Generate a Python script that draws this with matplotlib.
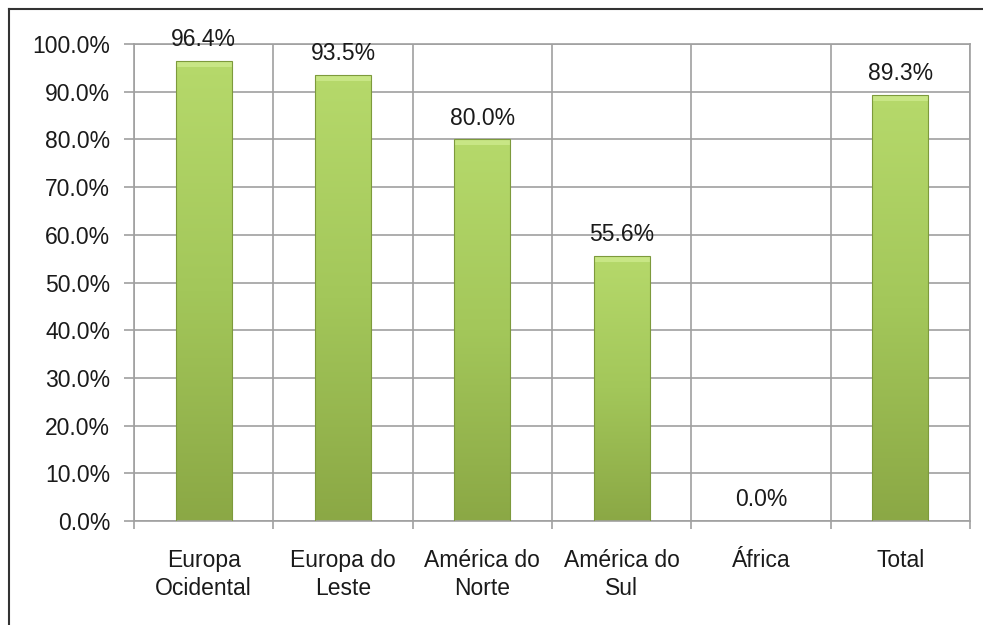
import numpy as np
import matplotlib
matplotlib.use('Agg')
import matplotlib.pyplot as plt
from matplotlib.colors import LinearSegmentedColormap
from matplotlib.lines import Line2D

plt.rcParams['font.family'] = ['Liberation Sans', 'DejaVu Sans']

categories = ['Europa\nOcidental', 'Europa do\nLeste', 'América do\nNorte',
              'América do\nSul', 'África', 'Total']
values = [0.964, 0.935, 0.800, 0.556, 0.0, 0.893]
labels = ['96.4%', '93.5%', '80.0%', '55.6%', '0.0%', '89.3%']

grid_col = '#a0a0a0'
txt_col = '#1a1a1a'
fs = 16.5
green = LinearSegmentedColormap.from_list('g', ['#8ba845', '#a3c75a', '#b6d96b'])

fig = plt.figure(figsize=(9.83, 6.25), dpi=100)
ax = fig.add_axes([0.1363, 0.1664, 0.8505, 0.7632])

x = np.arange(len(categories))
bw = 0.40
grad = np.linspace(0, 1, 256).reshape(-1, 1)
for xi, v in zip(x, values):
    if v <= 0:
        continue
    bar = ax.bar(xi, v, width=bw, color='none', edgecolor='#7d9a3c', linewidth=0.8, zorder=3)[0]
    im = ax.imshow(grad, cmap=green, origin='lower', aspect='auto',
                   extent=[xi - bw / 2, xi + bw / 2, 0, v], zorder=2.5)
    im.set_clip_path(bar)
    # light bevel at the top of each bar
    ax.fill_between([xi - bw / 2, xi + bw / 2], v - 0.012, v, color='#c8e685', zorder=2.8, lw=0)

for xi, v, lab in zip(x, values, labels):
    ax.annotate(lab, (xi, v), xytext=(0, 7), textcoords='offset points',
                ha='center', va='bottom', fontsize=fs, color=txt_col)

ax.set_xlim(-0.5, len(categories) - 0.5)
ax.set_ylim(0, 1.0)
ax.set_yticks(np.arange(0, 1.01, 0.1))
ax.set_yticklabels([f'{t * 100:.1f}%' for t in np.arange(0, 1.01, 0.1)], fontsize=fs, color=txt_col)

ax.set_xticks(np.arange(-0.5, len(categories)), minor=False)
ax.set_xticklabels([])
ax.set_xticks(x, minor=True)
ax.set_xticklabels(categories, minor=True, fontsize=fs, color=txt_col, linespacing=1.3)
ax.tick_params(axis='x', which='minor', length=0, pad=20)
ax.tick_params(axis='x', which='major', length=6, color=grid_col, width=1.2)
ax.tick_params(axis='y', length=7, color=grid_col, width=1.2, pad=10)

ax.grid(True, which='major', color=grid_col, linewidth=1.2, zorder=0)
ax.set_axisbelow(True)
for s in ax.spines.values():
    s.set_color(grid_col)
    s.set_linewidth(1.2)

# outer frame (top and left edges only visible)
fig.add_artist(Line2D([9 / 983, 9 / 983], [0, 1 - 9 / 625], color='#333333', lw=1.5))
fig.add_artist(Line2D([9 / 983, 1], [1 - 9 / 625, 1 - 9 / 625], color='#333333', lw=1.5))

fig.savefig('out.png', dpi=100)
